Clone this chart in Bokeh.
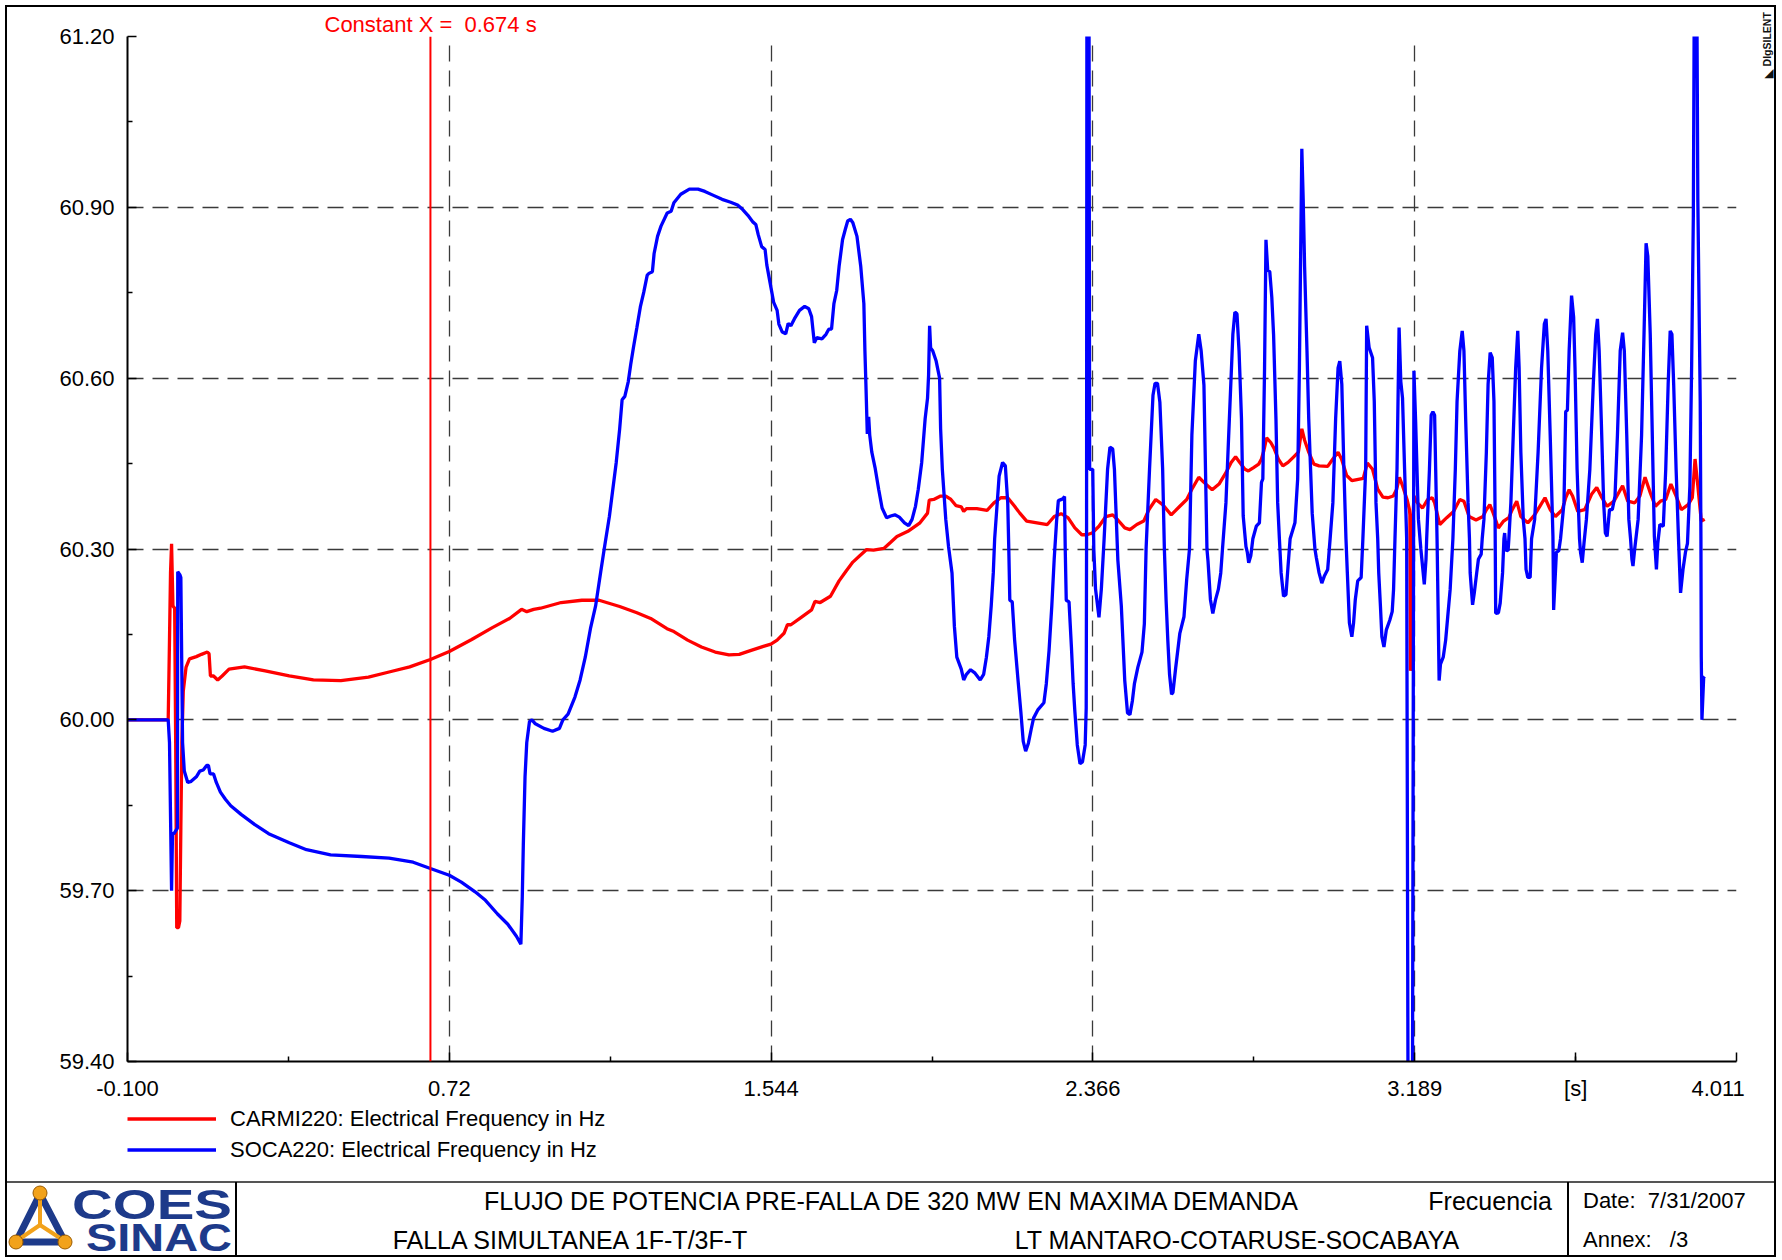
import math
from bokeh.plotting import figure
from bokeh.models import (Range1d, FixedTicker, PrintfTickFormatter, Span, LinearAxis,
                          Legend, LegendItem, Div)
from bokeh.layouts import column
from bokeh.embed import file_html
from bokeh.resources import INLINE
from bokeh.core.properties import value

FONT = "Liberation Sans"

# ---------------- data ----------------
t_carmi = [-0.1, 0.004, 0.0073, 0.0099, 0.0126, 0.0161, 0.0205, 0.0231, 0.0258, 0.0302,
           0.0337, 0.0363, 0.0389, 0.0425, 0.0495, 0.0583, 0.0759, 0.0891, 0.104, 0.1084,
           0.1119, 0.1199, 0.1304, 0.1418, 0.1594, 0.199, 0.2518, 0.3133, 0.3749, 0.4452,
           0.5156, 0.5683, 0.6211, 0.6739, 0.7222, 0.7794, 0.8322, 0.8761, 0.9069, 0.9201,
           0.9377, 0.9553, 1.008, 1.0608, 1.1048, 1.1575, 1.2015, 1.2367, 1.2784, 1.296,
           1.3312, 1.3664, 1.4015, 1.4367, 1.4631, 1.4895, 1.5247, 1.544, 1.5598, 1.5774,
           1.5862, 1.595, 1.6214, 1.6478, 1.6566, 1.6698, 1.6961, 1.7181, 1.7357, 1.7533,
           1.7709, 1.7885, 1.8061, 1.8324, 1.85, 1.8659, 1.894, 1.9248, 1.9441, 1.9485,
           1.96, 1.9775, 1.9907, 2.0039, 2.0171, 2.0303, 2.0365, 2.0435, 2.0699, 2.0963,
           2.1138, 2.1314, 2.149, 2.1666, 2.1798, 2.1974, 2.2238, 2.2502, 2.2677, 2.2853,
           2.3029, 2.3205, 2.3381, 2.3513, 2.3645, 2.3821, 2.3997, 2.4172, 2.4304, 2.448,
           2.4612, 2.4788, 2.4964, 2.5096, 2.5271, 2.5448, 2.5667, 2.5887, 2.6063, 2.6195,
           2.6371, 2.6503, 2.6713, 2.6889, 2.7065, 2.7198, 2.7312, 2.7418, 2.755, 2.7638,
           2.7771, 2.7903, 2.7973, 2.8035, 2.8105, 2.8211, 2.83, 2.8405, 2.8519, 2.8652,
           2.8784, 2.8916, 2.9004, 2.9075, 2.918, 2.9313, 2.9445, 2.9665, 2.9797, 2.993,
           3.0018, 3.015, 3.0282, 3.0414, 3.0573, 3.0679, 3.0811, 3.0943, 3.1075, 3.1207,
           3.134, 3.1428, 3.1498, 3.1577, 3.1692, 3.1754, 3.1765, 3.178, 3.181, 3.1868,
           3.1957, 3.2089, 3.2221, 3.2335, 3.2397, 3.2529, 3.2706, 3.2882, 3.304, 3.3146,
           3.3278, 3.3455, 3.3631, 3.3719, 3.3807, 3.3895, 3.4027, 3.416, 3.4292, 3.438,
           3.4495, 3.46, 3.4777, 3.4953, 3.5085, 3.5217, 3.535, 3.5482, 3.5658, 3.5746,
           3.5834, 3.5922, 3.6055, 3.6231, 3.6407, 3.6539, 3.6671, 3.6804, 3.698, 3.72,
           3.7332, 3.7509, 3.7641, 3.7773, 3.7906, 3.8038, 3.817, 3.8302, 3.8434, 3.8567,
           3.8699, 3.8875, 3.8981, 3.9051, 3.9122, 3.921, 3.9298]
f_carmi = [60.0, 60.0, 60.14, 60.258, 60.309, 60.2, 60.196, 59.96, 59.635, 59.635,
           59.647, 59.81, 59.96, 60.05, 60.092, 60.107, 60.111, 60.115, 60.119, 60.116,
           60.077, 60.077, 60.07, 60.077, 60.089, 60.093, 60.086, 60.077, 60.07, 60.069,
           60.075, 60.084, 60.093, 60.106, 60.12, 60.141, 60.162, 60.178, 60.194, 60.19,
           60.194, 60.196, 60.206, 60.21, 60.21, 60.199, 60.188, 60.178, 60.16, 60.155,
           60.14, 60.128, 60.119, 60.114, 60.115, 60.121, 60.129, 60.133, 60.14, 60.152,
           60.167, 60.167, 60.18, 60.193, 60.208, 60.206, 60.217, 60.244, 60.261, 60.277,
           60.288, 60.299, 60.298, 60.301, 60.312, 60.322, 60.331, 60.346, 60.363, 60.386,
           60.387, 60.393, 60.393, 60.387, 60.376, 60.374, 60.366, 60.371, 60.371, 60.368,
           60.381, 60.39, 60.39, 60.375, 60.363, 60.349, 60.346, 60.343, 60.357, 60.362,
           60.355, 60.337, 60.325, 60.325, 60.328, 60.34, 60.357, 60.36, 60.351, 60.337,
           60.334, 60.343, 60.349, 60.369, 60.387, 60.378, 60.36, 60.375, 60.387, 60.405,
           60.426, 60.417, 60.404, 60.414, 60.434, 60.452, 60.462, 60.452, 60.44, 60.437,
           60.443, 60.449, 60.458, 60.473, 60.495, 60.487, 60.476, 60.458, 60.446, 60.452,
           60.461, 60.47, 60.511, 60.491, 60.47, 60.449, 60.446, 60.445, 60.458, 60.47,
           60.458, 60.429, 60.42, 60.422, 60.424, 60.451, 60.44, 60.405, 60.391, 60.39,
           60.393, 60.405, 60.426, 60.411, 60.387, 60.369, 60.36, 60.086, 60.3, 60.393,
           60.381, 60.372, 60.387, 60.39, 60.381, 60.343, 60.355, 60.366, 60.387, 60.384,
           60.357, 60.351, 60.357, 60.369, 60.378, 60.363, 60.337, 60.349, 60.355, 60.369,
           60.384, 60.357, 60.346, 60.36, 60.375, 60.39, 60.369, 60.357, 60.369, 60.39,
           60.404, 60.393, 60.366, 60.369, 60.396, 60.408, 60.39, 60.375, 60.384, 60.411,
           60.384, 60.381, 60.393, 60.426, 60.399, 60.375, 60.384, 60.387, 60.414, 60.393,
           60.369, 60.378, 60.39, 60.458, 60.411, 60.349, 60.352]

t_soca = [-0.1, 0.004, 0.0073, 0.0126, 0.015, 0.0187, 0.0275, 0.0284, 0.0337, 0.0363,
          0.0407, 0.0451, 0.0539, 0.0627, 0.0759, 0.0847, 0.0935, 0.1023, 0.1067, 0.111,
          0.1199, 0.1269, 0.1374, 0.1506, 0.1638, 0.1902, 0.2254, 0.2606, 0.3133, 0.3573,
          0.4188, 0.498, 0.5683, 0.6299, 0.6739, 0.7222, 0.753, 0.7882, 0.8146, 0.8454,
          0.8717, 0.8937, 0.9051, 0.9087, 0.9113, 0.9157, 0.9201, 0.9271, 0.9333, 0.9421,
          0.964, 0.986, 1.0036, 1.0124, 1.0256, 1.0432, 1.0564, 1.0696, 1.0828, 1.096,
          1.1091, 1.118, 1.1312, 1.14, 1.1487, 1.1575, 1.1637, 1.1707, 1.1795, 1.1857,
          1.1927, 1.2015, 1.2103, 1.2191, 1.2279, 1.2323, 1.2411, 1.2455, 1.2543, 1.2631,
          1.2789, 1.289, 1.296, 1.3136, 1.3356, 1.3576, 1.3752, 1.3971, 1.4191, 1.4411,
          1.4587, 1.4719, 1.4851, 1.4983, 1.5053, 1.5115, 1.5203, 1.529, 1.5334, 1.5422,
          1.551, 1.5598, 1.5642, 1.573, 1.5818, 1.588, 1.595, 1.6038, 1.617, 1.6302,
          1.6407, 1.6478, 1.6548, 1.661, 1.6742, 1.6847, 1.6917, 1.6988, 1.7049, 1.712,
          1.7181, 1.7269, 1.7339, 1.7401, 1.7471, 1.7533, 1.7638, 1.7735, 1.7814, 1.7841,
          1.7867, 1.7902, 1.7937, 1.7964, 1.8017, 1.8105, 1.8192, 1.828, 1.8395, 1.85,
          1.8606, 1.872, 1.8852, 1.8958, 1.9046, 1.9133, 1.9204, 1.9292, 1.938, 1.9441,
          1.9468, 1.9494, 1.952, 1.9573, 1.9661, 1.9749, 1.9775, 1.9819, 1.9907, 1.9978,
          2.0066, 2.0127, 2.0189, 2.0303, 2.0365, 2.0435, 2.0541, 2.0655, 2.0787, 2.0875,
          2.0945, 2.1007, 2.1068, 2.1121, 2.1156, 2.127, 2.1358, 2.1429, 2.149, 2.1517,
          2.1543, 2.1605, 2.1666, 2.1754, 2.1824, 2.1886, 2.1948, 2.2018, 2.2088, 2.215,
          2.2264, 2.2414, 2.2475, 2.2546, 2.2616, 2.2677, 2.2739, 2.2783, 2.2897, 2.2941,
          2.2959, 2.2985, 2.3056, 2.3117, 2.3161, 2.3205, 2.3267, 2.3337, 2.3399, 2.3469,
          2.3495, 2.3504, 2.3513, 2.3566, 2.3583, 2.3662, 2.3689, 2.3733, 2.3821, 2.3882,
          2.3953, 2.4041, 2.4102, 2.4172, 2.4216, 2.4304, 2.4392, 2.448, 2.4551, 2.4612,
          2.4674, 2.4726, 2.4814, 2.492, 2.4981, 2.5025, 2.5113, 2.5201, 2.5254, 2.5316,
          2.5377, 2.5448, 2.5492, 2.5536, 2.558, 2.5624, 2.5676, 2.5711, 2.5782, 2.5887,
          2.5993, 2.6063, 2.6134, 2.6195, 2.6283, 2.6371, 2.6432, 2.6503, 2.658, 2.6607,
          2.6669, 2.673, 2.68, 2.6871, 2.6933, 2.6977, 2.7065, 2.7153, 2.7242, 2.7294,
          2.7347, 2.74, 2.7462, 2.7506, 2.7577, 2.7612, 2.7647, 2.77, 2.7753, 2.7841,
          2.792, 2.7973, 2.8008, 2.8052, 2.8088, 2.8132, 2.8185, 2.8237, 2.8282, 2.8343,
          2.8387, 2.8431, 2.8475, 2.8537, 2.8599, 2.8652, 2.8705, 2.8828, 2.8898, 2.8942,
          2.9004, 2.9039, 2.9075, 2.9136, 2.918, 2.9269, 2.9339, 2.9374, 2.9445, 2.9515,
          2.9577, 2.9665, 2.9727, 2.9797, 2.9868, 2.993, 2.9974, 3.0026, 3.0079, 3.0132,
          3.0167, 3.022, 3.0282, 3.0326, 3.037, 3.0432, 3.052, 3.0564, 3.0635, 3.0661,
          3.0723, 3.0811, 3.0855, 3.0899, 3.0943, 3.0969, 3.1013, 3.1049, 3.1102, 3.1163,
          3.1251, 3.1313, 3.1348, 3.1384, 3.1436, 3.1489, 3.1533, 3.1577, 3.163, 3.1683,
          3.1719, 3.183, 3.1868, 3.1912, 3.1983, 3.2045, 3.2071, 3.2133, 3.2177, 3.2194,
          3.2265, 3.2309, 3.2353, 3.2397, 3.2424, 3.2459, 3.2485, 3.2512, 3.2547, 3.2617,
          3.2679, 3.2732, 3.2794, 3.2864, 3.2926, 3.297, 3.3041, 3.3102, 3.3146, 3.319,
          3.3252, 3.3287, 3.3305, 3.3367, 3.3411, 3.3472, 3.3516, 3.3587, 3.3613, 3.3657,
          3.3719, 3.3763, 3.3816, 3.3869, 3.3913, 3.3939, 3.3957, 3.4027, 3.4072, 3.4133,
          3.4168, 3.4186, 3.4221, 3.4274, 3.4292, 3.4345, 3.4406, 3.4468, 3.4521, 3.4556,
          3.46, 3.4662, 3.4706, 3.4733, 3.4777, 3.4838, 3.4874, 3.4953, 3.5041, 3.5129,
          3.52, 3.5244, 3.5288, 3.535, 3.542, 3.5438, 3.5508, 3.557, 3.5614, 3.5702,
          3.5746, 3.579, 3.5834, 3.5896, 3.5949, 3.5984, 3.6037, 3.6099, 3.6125, 3.6169,
          3.6213, 3.6275, 3.6363, 3.6451, 3.6513, 3.6557, 3.6601, 3.6654, 3.6716, 3.676,
          3.6804, 3.6865, 3.6936, 3.7006, 3.7068, 3.7139, 3.72, 3.7244, 3.7306, 3.7359,
          3.7403, 3.7438, 3.7465, 3.7509, 3.7597, 3.7685, 3.7747, 3.78, 3.7844, 3.7906,
          3.795, 3.8011, 3.8064, 3.8099, 3.8152, 3.824, 3.8302, 3.8364, 3.8416, 3.846,
          3.8505, 3.8567, 3.8628, 3.8681, 3.8743, 3.8805, 3.8857, 3.8919, 3.8963, 3.9007,
          3.9033, 3.9095, 3.9122, 3.9157, 3.9183, 3.9201, 3.921, 3.9227, 3.9271, 3.9298]
f_soca = [60.0, 60.0, 59.96, 59.7, 59.8, 59.8, 59.81, 60.26, 60.255, 60.25,
          59.96, 59.91, 59.89, 59.892, 59.9, 59.91, 59.912, 59.92, 59.92, 59.905,
          59.905, 59.89, 59.873, 59.86, 59.849, 59.834, 59.816, 59.8, 59.784, 59.772,
          59.763, 59.76, 59.757, 59.75, 59.739, 59.727, 59.715, 59.698, 59.683, 59.659,
          59.641, 59.62, 59.606, 59.69, 59.78, 59.9, 59.96, 59.997, 60.0, 59.993,
          59.985, 59.98, 59.985, 60.0, 60.01, 60.04, 60.07, 60.11, 60.16, 60.2,
          60.26, 60.3, 60.357, 60.405, 60.452, 60.511, 60.562, 60.568, 60.594, 60.624,
          60.654, 60.689, 60.725, 60.751, 60.781, 60.784, 60.787, 60.819, 60.849, 60.867,
          60.89, 60.893, 60.908, 60.923, 60.932, 60.932, 60.928, 60.921, 60.914, 60.909,
          60.904, 60.896, 60.886, 60.874, 60.87, 60.852, 60.831, 60.826, 60.799, 60.766,
          60.733, 60.719, 60.695, 60.681, 60.678, 60.696, 60.692, 60.704, 60.719, 60.726,
          60.722, 60.708, 60.662, 60.671, 60.669, 60.677, 60.686, 60.686, 60.731, 60.754,
          60.796, 60.843, 60.861, 60.876, 60.879, 60.873, 60.849, 60.796, 60.731, 60.648,
          60.588, 60.502, 60.532, 60.5, 60.47, 60.441, 60.405, 60.372, 60.355, 60.358,
          60.36, 60.356, 60.346, 60.341, 60.352, 60.375, 60.405, 60.452, 60.529, 60.565,
          60.606, 60.692, 60.653, 60.648, 60.63, 60.6, 60.511, 60.44, 60.352, 60.304,
          60.258, 60.164, 60.11, 60.089, 60.07, 60.08, 60.088, 60.082, 60.07, 60.08,
          60.11, 60.146, 60.2, 60.258, 60.318, 60.428, 60.452, 60.446, 60.381, 60.3,
          60.21, 60.207, 60.14, 60.069, 60.015, 59.962, 59.945, 59.959, 59.983, 60.003,
          60.018, 60.03, 60.063, 60.122, 60.2, 60.282, 60.35, 60.385, 60.388, 60.392,
          60.3, 60.21, 60.207, 60.128, 60.063, 60.015, 59.956, 59.923, 59.926, 59.956,
          60.021, 60.3, 61.3, 61.3, 60.44, 60.44, 60.3, 60.23, 60.18, 60.23,
          60.318, 60.44, 60.479, 60.476, 60.44, 60.28, 60.2, 60.069, 60.012, 60.009,
          60.033, 60.063, 60.092, 60.119, 60.169, 60.3, 60.44, 60.57, 60.591, 60.591,
          60.558, 60.44, 60.3, 60.21, 60.14, 60.08, 60.045, 60.048, 60.092, 60.152,
          60.181, 60.247, 60.3, 60.5, 60.63, 60.677, 60.648, 60.588, 60.3, 60.279,
          60.211, 60.187, 60.211, 60.229, 60.258, 60.3, 60.381, 60.529, 60.677, 60.716,
          60.713, 60.648, 60.529, 60.358, 60.304, 60.294, 60.276, 60.288, 60.318, 60.34,
          60.346, 60.417, 60.423, 60.618, 60.843, 60.79, 60.787, 60.742, 60.677, 60.529,
          60.381, 60.318, 60.258, 60.217, 60.22, 60.27, 60.318, 60.346, 60.423, 60.618,
          61.003, 60.914, 60.796, 60.648, 60.529, 60.363, 60.3, 60.285, 60.258, 60.24,
          60.252, 60.264, 60.318, 60.381, 60.529, 60.618, 60.63, 60.589, 60.44, 60.318,
          60.258, 60.17, 60.146, 60.17, 60.211, 60.244, 60.25, 60.318, 60.44, 60.692,
          60.654, 60.636, 60.559, 60.381, 60.318, 60.258, 60.199, 60.146, 60.128, 60.158,
          60.175, 60.19, 60.229, 60.318, 60.44, 60.689, 60.594, 60.565, 60.44, 60.318,
          59.3, 59.3, 60.613, 60.524, 60.352, 60.3, 60.282, 60.238, 60.282, 60.318,
          60.44, 60.535, 60.541, 60.535, 60.44, 60.318, 60.199, 60.069, 60.098, 60.11,
          60.14, 60.181, 60.229, 60.318, 60.44, 60.559, 60.648, 60.683, 60.648, 60.529,
          60.381, 60.318, 60.258, 60.202, 60.223, 60.258, 60.282, 60.291, 60.318, 60.352,
          60.47, 60.589, 60.645, 60.636, 60.559, 60.381, 60.187, 60.188, 60.205, 60.258,
          60.318, 60.328, 60.298, 60.297, 60.316, 60.381, 60.5, 60.618, 60.683, 60.618,
          60.47, 60.352, 60.318, 60.264, 60.25, 60.25, 60.318, 60.352, 60.47, 60.618,
          60.695, 60.704, 60.648, 60.5, 60.322, 60.193, 60.294, 60.297, 60.318, 60.381,
          60.541, 60.544, 60.648, 60.745, 60.707, 60.618, 60.44, 60.318, 60.294, 60.276,
          60.31, 60.352, 60.44, 60.589, 60.677, 60.704, 60.648, 60.529, 60.381, 60.328,
          60.322, 60.369, 60.369, 60.393, 60.5, 60.648, 60.68, 60.648, 60.5, 60.352,
          60.318, 60.282, 60.27, 60.3, 60.352, 60.5, 60.677, 60.837, 60.814, 60.677,
          60.529, 60.322, 60.264, 60.31, 60.343, 60.34, 60.44, 60.589, 60.683, 60.677,
          60.589, 60.44, 60.318, 60.223, 60.264, 60.294, 60.31, 60.411, 60.618, 60.884,
          61.3, 61.3, 60.914, 60.707, 60.559, 60.318, 60.11, 60.0, 60.074, 60.076]

series_names = ["CARMI220: Electrical Frequency in Hz", "SOCA220: Electrical Frequency in Hz"]
series_colors = ["#ff0000", "#0000ff"]
x_ticks = [-0.1, 0.7222, 1.5444, 2.3666, 3.1888, 3.6, 4.011]
x_tick_labels = ["-0.100", "0.72", "1.544", "2.366", "3.189", "[s]",
                 "4.011" + "\u00a0" * 6]
x_grid = [-0.1, 0.7222, 1.5444, 2.3666, 3.1888, 4.011]
x_minor = [0.3111, 1.1333, 1.9555, 2.7777, 3.5999]
y_ticks = [59.4, 59.7, 60.0, 60.3, 60.6, 60.9, 61.2]
y_minor = [59.55, 59.85, 60.15, 60.45, 60.75, 61.05]
cursor_x = 0.674
brand_ticks = [61.1474, 61.128]
brand_labels = ["DIgSILENT", "\u25E3"]

W, H = 1782, 1260
FR_L, FR_R, FR_T, FR_B = 127, 1737, 36, 1063
H_MAIN = 1103
H_LEG = 79
H_FOOT = H - H_MAIN - H_LEG
LW = 3.3

# ---------------- main chart ----------------
p = figure(width=W, height=H_MAIN, x_range=Range1d(-0.1, 4.011), y_range=Range1d(59.4, 61.2),
           output_backend="svg", toolbar_location=None,
           min_border_left=FR_L, min_border_right=W - FR_R,
           min_border_top=FR_T, min_border_bottom=H_MAIN - FR_B)
p.outline_line_color = None
p.background_fill_color = "white"
p.border_fill_color = "white"

# cursor read-out as the plot title, placed over the cursor line
p.title.text = "Constant X =\u00a0 %.3f s" % cursor_x
p.title.align = "left"
p.title.offset = 197
p.title.standoff = 0
p.title.text_color = "#ff0000"
p.title.text_font = FONT
p.title.text_font_size = "22px"
p.title.text_font_style = "normal"

p.xaxis.ticker = FixedTicker(ticks=x_ticks, minor_ticks=x_minor)
p.xaxis.major_label_overrides = dict(zip(x_ticks, x_tick_labels))
p.xgrid.ticker = FixedTicker(ticks=x_grid)
p.yaxis.ticker = FixedTicker(ticks=y_ticks, minor_ticks=y_minor)
p.yaxis.formatter = PrintfTickFormatter(format="%.2f")

for ax in (p.xaxis, p.yaxis):
    ax.axis_line_color = "black"
    ax.axis_line_width = 2
    ax.major_tick_in = 9
    ax.major_tick_out = 0
    ax.minor_tick_in = 5
    ax.minor_tick_out = 0
    ax.major_tick_line_color = "black"
    ax.minor_tick_line_color = "black"
    ax.major_tick_line_width = 1.5
    ax.minor_tick_line_width = 1.5
    ax.major_label_text_font = FONT
    ax.major_label_text_font_size = "22px"
    ax.major_label_text_color = "black"
p.xaxis.major_label_standoff = 14
p.yaxis.major_label_standoff = 13

for g in (p.xgrid, p.ygrid):
    g.grid_line_color = "#3a3a3a"
    g.grid_line_width = 1.3
    g.grid_line_dash = "16 9"

r_carmi = p.line(t_carmi, f_carmi, line_color=series_colors[0], line_width=LW)
r_soca = p.line(t_soca, f_soca, line_color=series_colors[1], line_width=LW)

p.add_layout(Span(location=cursor_x, dimension="height", line_color="#ff0000", line_width=2))

# DIgSILENT brand mark in the right margin
brand = LinearAxis(ticker=FixedTicker(ticks=brand_ticks),
                   major_label_overrides=dict(zip(brand_ticks, brand_labels)),
                   major_label_orientation=math.pi / 2, major_label_standoff=31,
                   major_tick_in=0, major_tick_out=0, minor_tick_in=0, minor_tick_out=0,
                   axis_line_color=None, major_tick_line_color=None, minor_tick_line_color=None,
                   major_label_text_font=FONT, major_label_text_font_size="10.5px",
                   major_label_text_font_style="bold", major_label_text_color="#111111")
p.add_layout(brand, "right")

# ---------------- legend strip (same series, ranges keep the lines out of view) ----------------
lf = figure(width=W, height=H_LEG, x_range=Range1d(10, 11), y_range=Range1d(10, 11),
            output_backend="svg", toolbar_location=None,
            min_border_left=FR_L, min_border_right=W - FR_R, min_border_top=0, min_border_bottom=0,
            x_axis_type=None, y_axis_type=None)
lf.outline_line_color = None
lf.background_fill_color = "white"
lf.border_fill_color = "white"
lg_carmi = lf.line(t_carmi, f_carmi, line_color=series_colors[0], line_width=LW)
lg_soca = lf.line(t_soca, f_soca, line_color=series_colors[1], line_width=LW)
legend = Legend(items=[LegendItem(label=value(series_names[0]), renderers=[lg_carmi]),
                       LegendItem(label=value(series_names[1]), renderers=[lg_soca])],
                location="top_left", orientation="vertical",
                glyph_width=89, glyph_height=31, label_height=31, label_standoff=14,
                spacing=0, padding=0, margin=0,
                border_line_alpha=0, background_fill_alpha=0,
                label_text_font=FONT, label_text_font_size="22px", label_text_color="black")
lf.add_layout(legend)

# ---------------- title block (HTML) ----------------
NAVY = "#1d3a8a"
ORANGE = "#f2a21b"
def txt(x, y, s, anchor="center", size=25):
    tx = {"center": "-50%", "left": "0", "right": "-100%"}[anchor]
    return ('<span style="position:absolute;left:%dpx;top:%dpx;white-space:nowrap;font-size:%dpx;'
            'transform:translate(%s,-50%%);line-height:1">%s</span>' % (x, y, size, tx, s))

logo = f'''<svg style="position:absolute;left:0;top:0" width="236" height="{H_FOOT}">
<polyline points="40,12 16,60 65,60 40,12" fill="none" stroke="{NAVY}" stroke-width="7" stroke-linejoin="round"/>
<line x1="40" y1="43" x2="40" y2="14" stroke="{ORANGE}" stroke-width="4"/>
<line x1="40" y1="43" x2="18" y2="58" stroke="{ORANGE}" stroke-width="4"/>
<line x1="40" y1="43" x2="63" y2="58" stroke="{ORANGE}" stroke-width="4"/>
<circle cx="40" cy="11" r="7" fill="{ORANGE}" stroke="#9a5a00" stroke-width="1"/>
<circle cx="16" cy="60" r="7" fill="{ORANGE}" stroke="#9a5a00" stroke-width="1"/>
<circle cx="65" cy="60" r="7" fill="{ORANGE}" stroke="#9a5a00" stroke-width="1"/>
<text x="72" y="37" textLength="160" lengthAdjust="spacingAndGlyphs" font-family="Liberation Sans" font-weight="bold" font-size="42" fill="{NAVY}">COES</text>
<text x="86" y="69" textLength="146" lengthAdjust="spacingAndGlyphs" font-family="Liberation Sans" font-weight="bold" font-size="38" fill="{NAVY}">SINAC</text>
</svg>'''

top_off = H_MAIN + H_LEG
html = (f'<div style="position:relative;width:{W}px;height:{H_FOOT}px;overflow:visible;margin:0;padding:0;'
        f'font-family:\'Liberation Sans\',Arial,sans-serif;color:#000">'
        f'<div style="position:absolute;left:5px;top:-{top_off - 5}px;width:1771px;height:1252px;'
        f'box-sizing:border-box;border:2px solid #000;pointer-events:none;z-index:10"></div>'
        f'<div style="position:absolute;left:5px;top:-1px;width:1771px;height:2px;background:#555"></div>'
        f'<div style="position:absolute;left:235px;top:0;width:2px;height:75px;background:#000"></div>'
        f'<div style="position:absolute;left:1567px;top:0;width:2px;height:75px;background:#000"></div>'
        + logo
        + txt(891, 19, "FLUJO DE POTENCIA PRE-FALLA DE 320 MW EN MAXIMA DEMANDA")
        + txt(1552, 19, "Frecuencia", "right")
        + txt(1583, 19, "Date:&nbsp; 7/31/2007", "left", 22)
        + txt(570, 58, "FALLA SIMULTANEA 1F-T/3F-T")
        + txt(1237, 58, "LT MANTARO-COTARUSE-SOCABAYA")
        + txt(1583, 58, "Annex:&nbsp;&nbsp; /3", "left", 22)
        + '</div>')
footer = Div(text=html, width=W, height=H_FOOT,
             styles={"margin": "0", "padding": "0", "overflow": "visible"})

layout = column(p, lf, footer, spacing=0)
open("out.html", "w").write(file_html(layout, INLINE))
